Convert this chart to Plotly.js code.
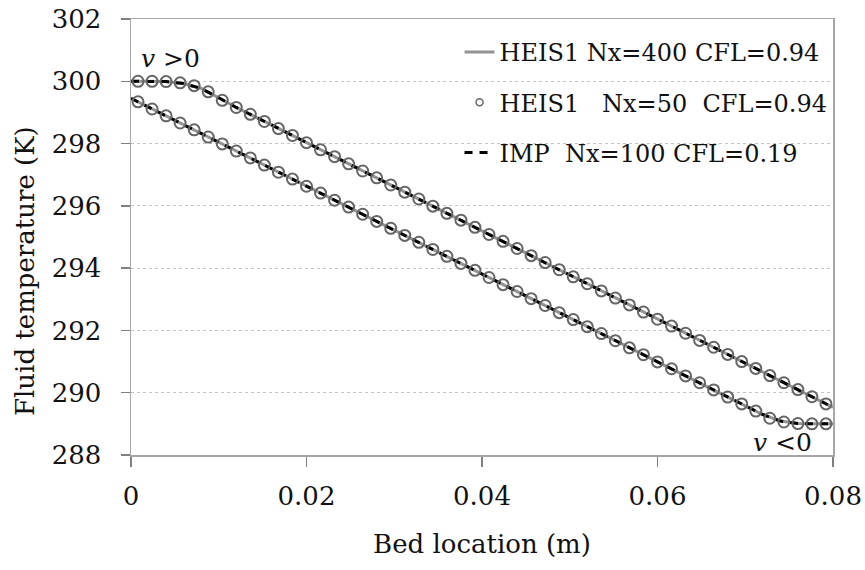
<!DOCTYPE html>
<html>
<head>
<meta charset="utf-8">
<script src="https://cdn.plot.ly/plotly-3.0.1.min.js"></script>
<style>html,body{margin:0;padding:0;background:#fff;}#chart{width:865px;height:570px;}</style>
</head>
<body>
<div id="chart"></div>
<script>
// Cell centres of the Nx=50 run (m)
var xCells = [0.0008, 0.0024, 0.0040, 0.0056, 0.0072, 0.0088, 0.0104, 0.0120, 0.0136, 0.0152,
  0.0168, 0.0184, 0.0200, 0.0216, 0.0232, 0.0248, 0.0264, 0.0280, 0.0296, 0.0312,
  0.0328, 0.0344, 0.0360, 0.0376, 0.0392, 0.0408, 0.0424, 0.0440, 0.0456, 0.0472,
  0.0488, 0.0504, 0.0520, 0.0536, 0.0552, 0.0568, 0.0584, 0.0600, 0.0616, 0.0632,
  0.0648, 0.0664, 0.0680, 0.0696, 0.0712, 0.0728, 0.0744, 0.0760, 0.0776, 0.0792];

// HEIS1 Nx=50, v>0
var heis50Pos = [300.00, 300.00, 299.99, 299.95, 299.86, 299.66, 299.39, 299.16, 298.94, 298.71,
  298.48, 298.26, 298.03, 297.80, 297.58, 297.35, 297.12, 296.90, 296.67, 296.44,
  296.22, 295.99, 295.76, 295.54, 295.31, 295.08, 294.86, 294.63, 294.40, 294.18,
  293.95, 293.72, 293.50, 293.27, 293.04, 292.82, 292.59, 292.36, 292.14, 291.91,
  291.68, 291.46, 291.23, 291.00, 290.78, 290.55, 290.32, 290.10, 289.87, 289.64];

// HEIS1 Nx=50, v<0
var heis50Neg = [299.34, 299.11, 298.89, 298.66, 298.44, 298.21, 297.99, 297.76, 297.54, 297.31,
  297.08, 296.86, 296.63, 296.41, 296.18, 295.96, 295.73, 295.50, 295.28, 295.05,
  294.83, 294.60, 294.38, 294.15, 293.93, 293.70, 293.47, 293.25, 293.02, 292.80,
  292.57, 292.35, 292.12, 291.90, 291.67, 291.44, 291.22, 290.99, 290.77, 290.54,
  290.32, 290.09, 289.86, 289.64, 289.41, 289.18, 289.06, 289.01, 289.00, 289.00];

// Fine-grid solutions (HEIS1 Nx=400 and IMP Nx=100)
var xLine = [0, 0.002, 0.004, 0.006, 0.008, 0.010, 0.012, 0.016, 0.020, 0.024, 0.028, 0.032, 0.036,
  0.040, 0.044, 0.048, 0.052, 0.056, 0.060, 0.064, 0.068, 0.070, 0.072, 0.074, 0.076, 0.078, 0.080];
var linePos = [300.00, 300.00, 299.99, 299.93, 299.77, 299.47, 299.16, 298.60, 298.03, 297.46, 296.90, 296.33, 295.76,
  295.20, 294.63, 294.06, 293.50, 292.93, 292.37, 291.80, 291.23, 290.95, 290.67, 290.38, 290.10, 289.82, 289.53];
var lineNeg = [299.45, 299.17, 298.89, 298.61, 298.32, 298.04, 297.76, 297.20, 296.63, 296.07, 295.50, 294.94, 294.38,
  293.81, 293.25, 292.68, 292.12, 291.56, 290.99, 290.43, 289.86, 289.58, 289.30, 289.09, 289.01, 289.00, 289.00];
var impPos = linePos;
var impNeg = lineNeg;

var xTicks = [0, 0.02, 0.04, 0.06, 0.08];
var xTickText = ['0', '0.02', '0.04', '0.06', '0.08'];
var yTicks = [288, 290, 292, 294, 296, 298, 300, 302];

var names = ['HEIS1 Nx=400 CFL=0.94', 'HEIS1\u00a0\u00a0\u00a0Nx=50\u00a0\u00a0CFL=0.94', 'IMP\u00a0\u00a0Nx=100 CFL=0.19'];
var xTitle = 'Bed location (m)';
var yTitle = 'Fluid temperature (K)';

var FONT = 'DejaVu Serif, serif';
var grey = '#939393';
var mk = '#666666';

var traces = [
  {x: xLine, y: linePos, mode: 'lines', name: names[0], legendgroup: 'a',
   line: {color: grey, width: 3}},
  {x: xLine, y: lineNeg, mode: 'lines', showlegend: false, legendgroup: 'a',
   line: {color: grey, width: 3}},
  {x: [null], y: [null], mode: 'markers', name: names[1], legendgroup: 'b',
   marker: {symbol: 'circle-open', size: 7, color: mk, line: {width: 1.5}}},
  {x: xLine, y: impPos, mode: 'lines', name: names[2], legendgroup: 'c',
   line: {color: '#000', width: 3, dash: '8px,7px'}},
  {x: xLine, y: impNeg, mode: 'lines', showlegend: false, legendgroup: 'c',
   line: {color: '#000', width: 3, dash: '8px,7px'}},
  {x: xCells, y: heis50Pos, mode: 'markers', showlegend: false,
   marker: {symbol: 'circle-open', size: 11, color: mk, line: {width: 2}}},
  {x: xCells, y: heis50Neg, mode: 'markers', showlegend: false,
   marker: {symbol: 'circle-open', size: 11, color: mk, line: {width: 2}}}
];

var layout = {
  width: 865, height: 570,
  margin: {l: 131, r: 32, t: 19, b: 115},
  paper_bgcolor: '#fff', plot_bgcolor: '#fff',
  font: {family: FONT, color: '#111', size: 25},
  showlegend: true,
  legend: {x: 0.468, xanchor: 'left', y: 0.975, yanchor: 'top',
    bgcolor: 'rgba(0,0,0,0)', borderwidth: 0, tracegroupgap: 16,
    font: {family: FONT, size: 24, color: '#111'}},
  xaxis: {range: [0, 0.08], tickvals: xTicks, ticktext: xTickText,
    showgrid: false, zeroline: false, showline: true, mirror: true,
    linecolor: '#a6a6a6', linewidth: 1.5, ticks: 'outside', ticklen: 10,
    tickcolor: '#808080', tickwidth: 1.5, ticklabelstandoff: 7,
    tickfont: {family: FONT, size: 26, color: '#111'},
    title: {text: xTitle, font: {family: FONT, size: 26, color: '#111'}, standoff: 25}},
  yaxis: {range: [288, 302], tickvals: yTicks,
    showgrid: true, gridcolor: '#c4c4c4', griddash: 'dot', gridwidth: 1,
    zeroline: false, showline: true, mirror: true,
    linecolor: '#a6a6a6', linewidth: 1.5, ticks: 'outside', ticklen: 9,
    tickcolor: '#808080', tickwidth: 1.5, ticklabelstandoff: 14,
    tickfont: {family: FONT, size: 26, color: '#111'}},
  annotations: [
    {xref: 'paper', yref: 'paper', x: -0.151, y: 0.422, xanchor: 'center', yanchor: 'middle',
     textangle: -90, text: yTitle, showarrow: false, font: {family: FONT, size: 26, color: '#111'}},
    {xref: 'x', yref: 'y', x: 0.0009, y: 300.72, xanchor: 'left', yanchor: 'middle',
     text: '<i>v</i> &gt;0', showarrow: false, font: {family: FONT, size: 25, color: '#111'}},
    {xref: 'x', yref: 'y', x: 0.0778, y: 288.40, xanchor: 'right', yanchor: 'middle',
     text: '<i>v</i> &lt;0', showarrow: false, font: {family: FONT, size: 25, color: '#111'}}
  ]
};

Plotly.newPlot('chart', traces, layout, {displayModeBar: false, staticPlot: true});
</script>
</body>
</html>
